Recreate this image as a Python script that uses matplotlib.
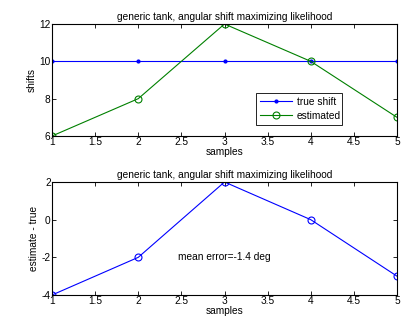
import numpy as np
import matplotlib.pyplot as plt

samples = [1, 2, 3, 4, 5]
true_shift = [10, 10, 10, 10, 10]
estimated = [6, 8, 12, 10, 7]
error = [e - t for e, t in zip(estimated, true_shift)]
mean_error = -1.4

title = "generic tank, angular shift maximizing likelihood"
fs = 7.3

plt.rcParams['font.family'] = ['Liberation Sans', 'DejaVu Sans']
plt.rcParams['font.size'] = fs
plt.rcParams['axes.unicode_minus'] = False

fig = plt.figure(figsize=(4.16, 3.22), dpi=100)
W, H = 416, 322

def style(ax):
    ax.tick_params(direction='in', top=True, right=True, length=3, width=0.6,
                   labelsize=fs, pad=1)
    for s in ax.spines.values():
        s.set_linewidth(0.8)
    ax.set_xlim(1, 5)
    ax.set_xticks(np.arange(1, 5.01, 0.5))
    ax.set_xticklabels(['1', '1.5', '2', '2.5', '3', '3.5', '4', '4.5', '5'])

ax1 = fig.add_axes([52 / W, 1 - 136 / H, 345 / W, 112 / H])
ax1.plot(samples, true_shift, '.-', color='#0000ff', lw=0.8, ms=4, label='true shift')
ax1.plot(samples, estimated, 'o-', color='#008000', lw=0.8, ms=5, mfc='none',
         mew=0.8, label='estimated')
style(ax1)
ax1.set_ylim(6, 12)
ax1.set_yticks([6, 8, 10, 12])
ax1.set_title(title, fontsize=fs, pad=3)
ax1.set_xlabel('samples', fontsize=fs, labelpad=0)
ax1.set_ylabel('shifts', fontsize=fs, labelpad=2)
leg = ax1.legend(loc='lower left', bbox_to_anchor=(0.59, 0.10, 0.25, 0.29),
                 mode='expand', fontsize=fs, fancybox=False, framealpha=1,
                 edgecolor='black', handlelength=3.2, borderpad=0.4,
                 labelspacing=0.4, borderaxespad=0, handletextpad=0.5)
leg.get_frame().set_linewidth(0.6)

ax2 = fig.add_axes([52 / W, 1 - 295 / H, 345 / W, 113 / H])
ax2.plot(samples, error, 'o-', color='#0000ff', lw=0.8, ms=5, mfc='none', mew=0.8)
style(ax2)
ax2.set_ylim(-4, 2)
ax2.set_yticks([-4, -2, 0, 2])
ax2.set_title(title, fontsize=fs, pad=3)
ax2.set_xlabel('samples', fontsize=fs, labelpad=0)
ax2.set_ylabel('estimate - true', fontsize=fs, labelpad=2)
ax2.text(3, -2, 'mean error=%.1f deg' % mean_error, fontsize=fs,
         ha='center', va='center')

fig.savefig('out.png', dpi=100)
